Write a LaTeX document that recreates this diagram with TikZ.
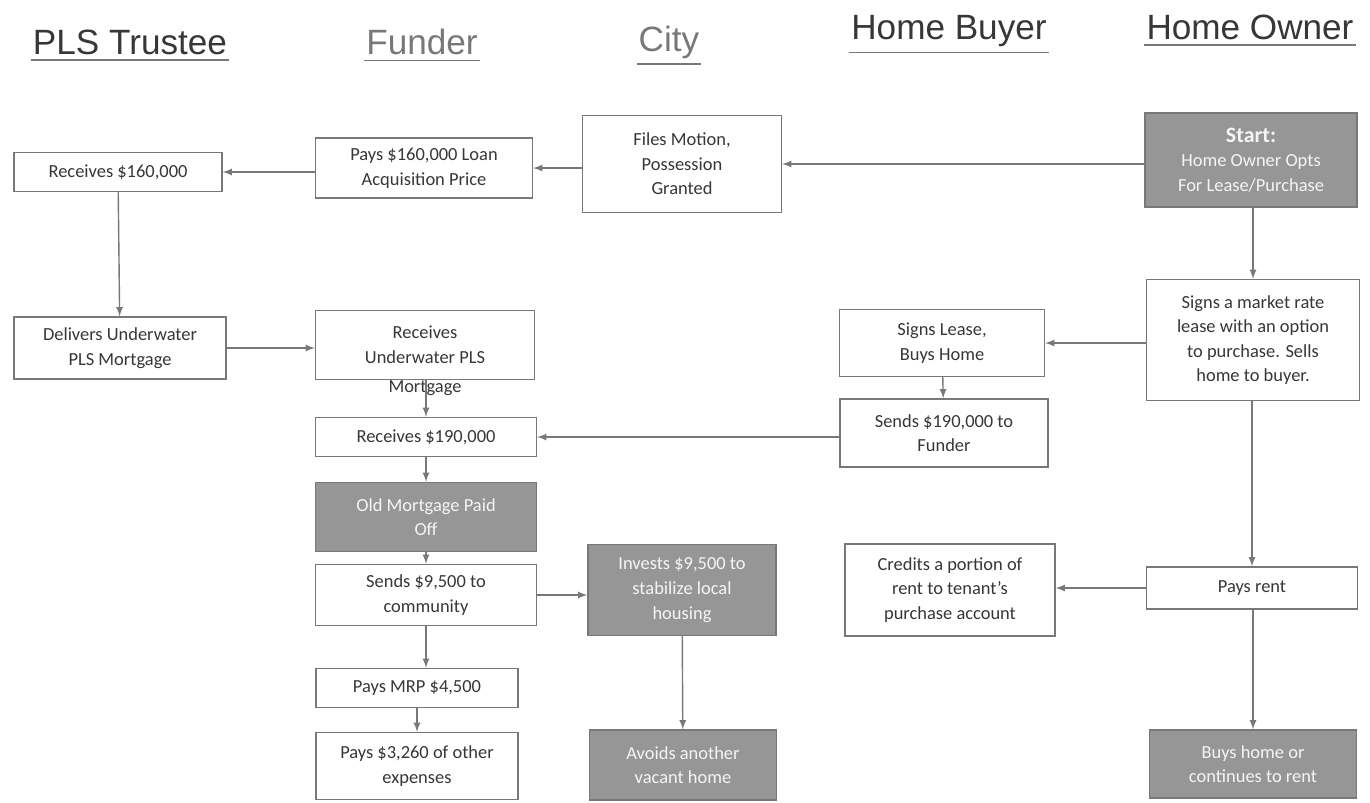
\documentclass[tikz,border=0pt]{standalone}
\usepackage{fontspec}
\setmainfont{Carlito}
\newfontfamily\headfont{Liberation Sans}
\usetikzlibrary{arrows}
\usepackage{xcolor}

\definecolor{inkgray}{RGB}{55,55,55}
\definecolor{linegray}{RGB}{120,120,120}
\definecolor{shadegray}{RGB}{150,150,150}

\tikzset{
    box/.style={draw=linegray, thick, fill=white, text=inkgray, align=center, inner sep=0pt,
        font=\fontsize{10.5}{14}\selectfont},
    darkbox/.style={box, fill=shadegray, text=white!92!gray},
    head/.style={text=inkgray, inner sep=1pt, font=\headfont\fontsize{20}{22}\selectfont},
    flow/.style={linegray, thick, -latex},
}

\begin{document}
\begin{tikzpicture}[x=0.02cm, y=-0.02cm]
        \useasboundingbox (0,0) rectangle (1370,802);

        % column headings
        \node[head] (htrustee) at (130,42) {PLS Trustee};
        \node[head, text=linegray] (hfunder) at (422,42) {Funder};
        \node[head, text=linegray] (hcity) at (669,42) {City};
        \node[head] (hbuyer) at (949,31) {Home Buyer};
        \node[head] (howner) at (1250,27) {Home Owner};
        \draw[linegray, thick] ([yshift=-2pt]htrustee.south west) -- ([yshift=-2pt]htrustee.south east);
        \draw[linegray, thick] ([yshift=-2pt]hfunder.south west) -- ([yshift=-2pt]hfunder.south east);
        \draw[linegray, thick] ([yshift=-2pt]hcity.south west) -- ([yshift=-2pt]hcity.south east);
        \draw[linegray, thick] ([yshift=-2pt]hbuyer.south west) -- ([yshift=-2pt]hbuyer.south east);
        \draw[linegray, thick] ([yshift=-2pt]howner.south west) -- ([yshift=-2pt]howner.south east);

        % top row
        \node[darkbox, minimum width=4.24cm, minimum height=1.88cm] (start) at (1251,160)
            {{\bfseries\fontsize{12.5}{16}\selectfont Start:}\\Home Owner Opts\\For Lease/Purchase};
        \node[box, minimum width=3.98cm, minimum height=1.94cm] (motion) at (682,164) {Files Motion,\\Possession\\Granted};
        \node[box, minimum width=4.34cm, minimum height=1.2cm] (pays160) at (424,168) {Pays \$160,000 Loan\\Acquisition Price};
        \node[box, minimum width=4.16cm, minimum height=0.78cm] (rec160) at (118,172) {Receives \$160,000};

        % second row
        \node[box, minimum width=4.24cm, minimum height=1.24cm] (deliver) at (120,348) {Delivers Underwater\\PLS Mortgage};
        \node[box, minimum width=4.38cm, minimum height=1.38cm,
            label={[text=inkgray, font=\fontsize{10.5}{14}\selectfont, yshift=3pt]below:Mortgage}] (recuw) at (425,345)
            {Receives\\Underwater PLS};
        \node[box, minimum width=4.1cm, minimum height=1.34cm] (lease) at (942,343) {Signs Lease,\\Buys Home};
        \node[box, minimum width=4.26cm, minimum height=2.42cm] (market) at (1253,340)
            {Signs a market rate\\lease with an option\\to purchase. Sells\\home to buyer.};

        % funder column
        \node[box, minimum width=4.16cm, minimum height=1.36cm] (send190) at (944,433) {Sends \$190,000 to\\Funder};
        \node[box, minimum width=4.42cm, minimum height=0.78cm] (rec190) at (426,437) {Receives \$190,000};
        \node[darkbox, minimum width=4.42cm, minimum height=1.38cm] (paidoff) at (426,517) {Old Mortgage Paid\\Off};
        \node[box, minimum width=4.42cm, minimum height=1.22cm] (send95) at (426,595) {Sends \$9,500 to\\community};
        \node[darkbox, minimum width=3.76cm, minimum height=1.82cm] (invest) at (682,590) {Invests \$9,500 to\\stabilize local\\housing};
        \node[box, minimum width=4.2cm, minimum height=1.84cm] (credit) at (950,590) {Credits a portion of\\rent to tenant's\\purchase account};
        \node[box, minimum width=4.22cm, minimum height=0.84cm] (rent) at (1252,588) {Pays rent};

        % bottom rows
        \node[box, minimum width=4.04cm, minimum height=0.78cm] (mrp) at (417,688) {Pays MRP \$4,500};
        \node[box, minimum width=4.04cm, minimum height=1.34cm] (expense) at (417,766) {Pays \$3,260 of other\\expenses};
        \node[darkbox, minimum width=3.74cm, minimum height=1.4cm] (avoid) at (683,765) {Avoids another\\vacant home};
        \node[darkbox, minimum width=4.14cm, minimum height=1.36cm] (buys) at (1253,764) {Buys home or\\continues to rent};

        % connectors
        \draw[flow] (start.west |- motion) -- (motion.east);
        \draw[flow] (motion.west |- pays160) -- (pays160.east);
        \draw[flow] (pays160.west |- rec160) -- (rec160.east);
        \draw[flow] (rec160) -- (deliver);
        \draw[flow] (deliver.east) -- (recuw.west |- deliver.east);
        \draw[flow] (start.south -| market.north) -- (market.north);
        \draw[flow] (market.west |- lease) -- (lease.east);
        \draw[flow] (lease) -- (send190);
        \draw[flow] (send190.west |- rec190) -- (rec190.east);
        \draw[flow] (recuw.south -| rec190.north) -- (rec190.north);
        \draw[flow] (rec190) -- (paidoff);
        \draw[flow] (paidoff) -- (send95);
        \draw[flow] (send95.east) -- (invest.west |- send95.east);
        \draw[flow] (send95.south) -- (mrp.north -| send95.south);
        \draw[flow] (mrp) -- (expense);
        \draw[flow] (invest) -- (avoid);
        \draw[flow] (market.south -| rent.north) -- (rent.north);
        \draw[flow] (rent.west) -- (credit.east |- rent.west);
        \draw[flow] (rent.south -| buys.north) -- (buys.north);
\end{tikzpicture}
\end{document}
